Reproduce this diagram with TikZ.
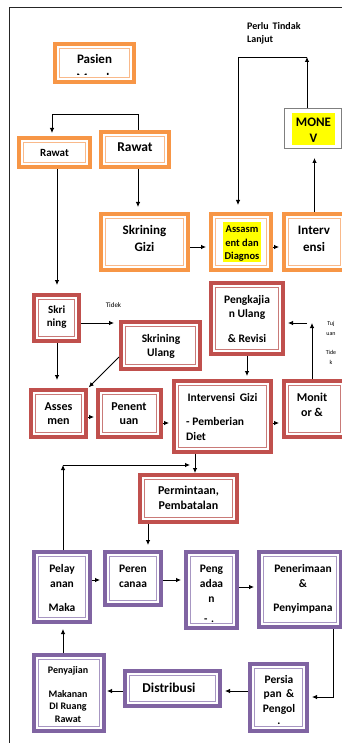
\documentclass[tikz,border=0pt]{standalone}
\usepackage{fontspec}
\setmainfont{Carlito}
\usetikzlibrary{arrows.meta,calc}
\definecolor{orB}{HTML}{F79646}
\definecolor{orL}{HTML}{F9B98A}
\definecolor{rdB}{HTML}{C0504D}
\definecolor{rdL}{HTML}{C97A78}
\definecolor{puB}{HTML}{8064A2}
\definecolor{puL}{HTML}{A796C2}
\definecolor{grB}{HTML}{7F7F7F}
\definecolor{yel}{HTML}{FFFF00}
\tikzset{
 frm/.style 2 args={draw=#1, line width=4pt, inner sep=0pt, fill=white,
   path picture={\draw[#2, line width=1pt] ([shift={(4.5pt,-4.5pt)}]path picture bounding box.north west) rectangle ([shift={(-4.5pt,4.5pt)}]path picture bounding box.south east);}},
 ob/.style={frm={orB}{orL}},
 rb/.style={frm={rdB}{rdL}},
 pb/.style={frm={puB}{puL}},
 tx/.style={anchor=base, inner sep=0pt, font=\bfseries\fontsize{#1}{#1}\selectfont},
 sm/.style={anchor=base, inner sep=0pt, font=\fontsize{#1}{#1}\selectfont},
 ar/.style={draw=black, line width=0.8pt, -{Latex[length=5pt,width=4.5pt]}, shorten >=3pt},
}
\begin{document}
\begin{tikzpicture}[x=1pt,y=-1pt]
\useasboundingbox (0,0) rectangle (342,743);
\clip (0,0) rectangle (342,743);
\fill[white] (0,0) rectangle (342,743);
\draw[line width=0.8pt, draw=black!85] (9,743) -- (9,7) -- (342,7);

% boxes
\node[ob, minimum width=79pt, minimum height=38pt] (pas) at (94.5,63) {};
\node[ob, minimum width=71pt, minimum height=29pt] (rawL) at (54.5,152.5) {};
\node[ob, minimum width=68pt, minimum height=35pt] (rawR) at (135,149.5) {};
\node[ob, minimum width=87pt, minimum height=56pt] (skg) at (144.5,242) {};
\node[ob, minimum width=60pt, minimum height=56pt] (ass) at (241,242) {};
\node[ob, minimum width=61pt, minimum height=56pt] (intv) at (314.5,242) {};
\node[draw=grB, line width=1.2pt, fill=white, inner sep=0pt, minimum width=56.8pt, minimum height=39.8pt] (monev) at (313,128.5) {};
\node[rb, minimum width=45pt, minimum height=46pt] (skri) at (56.5,318) {};
\node[rb, minimum width=79pt, minimum height=47pt] (sku) at (160.5,345.5) {};
\node[rb, minimum width=72pt, minimum height=71pt] (peng) at (247,318.5) {};
\node[rb, minimum width=55pt, minimum height=47pt] (asm) at (58.5,413.5) {};
\node[rb, minimum width=63pt, minimum height=47pt] (pen) at (129.5,413.5) {};
\node[rb, minimum width=97pt, minimum height=71pt] (ivg) at (222.5,416.5) {};
\node[rb, minimum width=61pt, minimum height=56pt] (mon) at (314.5,409) {};
\node[rb, minimum width=97pt, minimum height=47pt] (perm) at (188.5,498.5) {};
\node[pb, minimum width=56pt, minimum height=70pt] (pel) at (62,587) {};
\node[pb, minimum width=56pt, minimum height=53pt] (per) at (133,578.5) {};
\node[pb, minimum width=51pt, minimum height=76pt] (pga) at (211.5,590) {};
\node[pb, minimum width=82pt, minimum height=75pt] (pnr) at (300,589.5) {};
\node[pb, minimum width=57pt, minimum height=67pt] (psp) at (278.5,697.5) {};
\node[pb, minimum width=95pt, minimum height=35pt] (dis) at (172.5,688.5) {};
\node[pb, minimum width=70pt, minimum height=76pt] (pys) at (69,693) {};

% highlights
\fill[yel] (292,113) rectangle (335,145);
\fill[yel] (223,222) rectangle (261,262);

% texts
\node[tx=13] (t1) at (94.5,64) {Pasien};
\begin{scope}
\clip (60,50) rectangle (130,75);
\node[tx=13] (t2) at (94.5,82.5) {Masuk};
\end{scope}
\node[tx=10, anchor=base west] (t3) at (247,30) {Perlu\, Tindak};
\node[tx=10, anchor=base west] (t4) at (247,43) {Lanjut};
\node[tx=11] (t5) at (54.5,157) {Rawat};
\node[tx=13.5] (t6) at (135,152) {Rawat};
\node[tx=13] (t7) at (313.5,127) {MONE};
\node[tx=13] (t8) at (313.5,143) {V};
\node[tx=13] (t9) at (144.5,234) {Skrining};
\node[tx=13] (t10) at (144.5,251) {Gizi};
\node[tx=10.5] (t11) at (242,232) {Assasm};
\node[tx=10.5] (t12) at (242,246) {ent dan};
\node[tx=10.5] (t13) at (242,259) {Diagnos};
\node[tx=13] (t14) at (314,234) {Interv};
\node[tx=13] (t15) at (314,251) {ensi};
\node[tx=11] (t16) at (56.7,313) {Skri};
\node[tx=11] (t17) at (56.7,326) {ning};
\node[sm=7] (t18) at (113.5,307) {Tidek};
\node[tx=11.5] (t19) at (161,342) {Skrining};
\node[tx=11.5] (t20) at (161,356) {Ulang};
\node[tx=11.5] (t21) at (247,303) {Pengkajia};
\node[tx=11.5] (t22) at (247,317) {n Ulang};
\node[tx=11.5] (t23) at (247,342) {\& Revisi};
\node[sm=6] (t24) at (331,325) {Tuj};
\node[sm=6] (t25) at (331,335) {uan};
\node[sm=6] (t26) at (331,354) {Tide};
\node[sm=6] (t27) at (331,364) {k};
\node[tx=12] (t28) at (58.5,410) {Asses};
\node[tx=12] (t29) at (58.5,424) {men};
\node[tx=12] (t30) at (129,410) {Penent};
\node[tx=12] (t31) at (129,424) {uan};
\node[tx=11.5] (t32) at (222.5,401) {Intervensi\, Gizi};
\node[tx=11.5, anchor=base west] (t33) at (186,425) {- Pemberian};
\node[tx=11.5, anchor=base west] (t34) at (186,440) {Diet};
\node[tx=12] (t35) at (312,401) {Monit};
\node[tx=12] (t36) at (312,416) {or \&};
\node[tx=12] (t37) at (188.5,494) {Permintaan,};
\node[tx=12] (t38) at (188.5,509) {Pembatalan};
\node[tx=11.5] (t39) at (62,572) {Pelay};
\node[tx=11.5] (t40) at (62,587) {anan};
\node[tx=11.5] (t41) at (62,611) {Maka};
\node[tx=11.5] (t42) at (133,572) {Peren};
\node[tx=11.5] (t43) at (133,587) {canaa};
\node[tx=11.5] (t44) at (211.5,572) {Peng};
\node[tx=11.5] (t45) at (211.5,587) {adaa};
\node[tx=11.5] (t46) at (211.5,602) {n};
\node[tx=11] (t47) at (209,622) {-\,\,.};
\node[tx=11.5] (t48) at (303,572) {Penerimaan};
\node[tx=11.5] (t49) at (303,587) {\&};
\node[tx=11.5] (t50) at (303,611) {Penyimpana};
\node[tx=11.5] (t51) at (279,683) {Persia};
\node[tx=11.5] (t52) at (279,697) {pan \,\&};
\node[tx=11.5] (t53) at (279,712) {Pengol};
\node[tx=11.5] (t54) at (279,724) {.};
\node[tx=13.5] (t55) at (169,692) {Distribusi};
\node[tx=10] (t56) at (68,673) {Penyajian};
\node[tx=10] (t57) at (68,697) {Makanan};
\node[tx=10] (t58) at (68,709) {DI Ruang};
\node[tx=10] (t59) at (68,722) {Rawat};

% connectors
\coordinate (k1) at (138,114);
\coordinate (k2) at (52,114);
\draw[ar] ([xshift=3pt]rawR.north) -- (k1) -- (k2) -- (k2 |- rawL.north);
\draw[ar, shorten >=5pt] ([xshift=3pt]rawR.south) -- ([xshift=3pt]rawR.south |- skg.north);
\draw[ar, shorten >=8pt] ([xshift=2.5pt]rawL.south) -- ([xshift=2.5pt]rawL.south |- skri.north);
\draw[ar] ([yshift=-5pt]skg.east) -- ([yshift=-5pt]skg.east -| ass.west);
\draw[ar] ([yshift=-5pt]ass.east) -- ([yshift=-5pt]ass.east -| intv.west);
\draw[ar, shorten >=9pt] (intv.north) -- (intv.north |- monev.south);
\coordinate (k3) at (307,57);
\coordinate (k4) at (238,57);
\draw[ar, shorten >=0pt] ([xshift=-6pt]monev.north) -- (k3);
\draw[ar, shorten >=7pt] (k3) -- (k4) -- (k4 |- ass.north);
\draw[ar, shorten >=5pt] ([yshift=-5pt]skri.east) -- ([yshift=-5pt]skri.east -| sku.west);
\draw[ar, shorten >=8pt] ([xshift=0.5pt]skri.south) -- ([xshift=0.5pt]skri.south |- asm.north);
\draw[ar, shorten >=1pt] ([yshift=14pt]sku.south west) -- (asm.north east);
\draw[ar, shorten >=2pt] ([yshift=-3.5pt]asm.east) -- ([yshift=-3.5pt]asm.east -| pen.west);
\draw[ar] ([yshift=-9.5pt]pen.east) -- ([yshift=-9.5pt]pen.east -| ivg.west);
\draw[ar] ([yshift=-6.5pt]ivg.east) -- ([yshift=-6.5pt]ivg.east -| mon.west);
\draw[ar] (peng.south) -- (peng.south |- ivg.north);
\coordinate (k5) at (312,323);
\coordinate (k6) at (307,323);
\draw[ar, shorten >=0pt] ([xshift=-2.5pt]mon.north) -- (k5);
\draw[ar] (k6) -- (k6 -| peng.east);
\draw[ar, shorten >=0pt] ([xshift=-27.5pt]ivg.south) -- ([xshift=-27.5pt]ivg.south |- perm.north);
\coordinate (k7) at (63,465);
\coordinate (k8) at (190,465);
\draw[ar, shorten >=0pt] ([xshift=1pt]pel.north) -- (k7);
\draw[ar, shorten >=0pt] (k7) -- (k8);
\draw[ar, shorten >=5pt] ([xshift=-40.5pt]perm.south) -- ([xshift=-40.5pt]perm.south |- per.north);
\draw[ar] ([yshift=7pt]pel.east) -- ([yshift=7pt]pel.east -| per.west);
\draw[ar] ([yshift=-1.5pt]per.east) -- ([yshift=-1.5pt]per.east -| pga.west);
\draw[ar] ([yshift=3pt]pga.east) -- ([yshift=3pt]pga.east -| pnr.west);
\coordinate (k9) at (333,697);
\draw[ar] ([xshift=33pt]pnr.south) -- (k9) -- (k9 -| psp.east);
\draw[ar] ([yshift=6.5pt]psp.west) -- ([yshift=6.5pt]psp.west -| dis.east);
\draw[ar, shorten >=1pt] ([yshift=-2.5pt]dis.west) -- ([yshift=-2.5pt]dis.west -| pys.east);
\draw[ar, shorten >=5pt] ([xshift=-6pt]pys.north) -- ([xshift=-6pt]pys.north |- pel.south);
\end{tikzpicture}
\end{document}
